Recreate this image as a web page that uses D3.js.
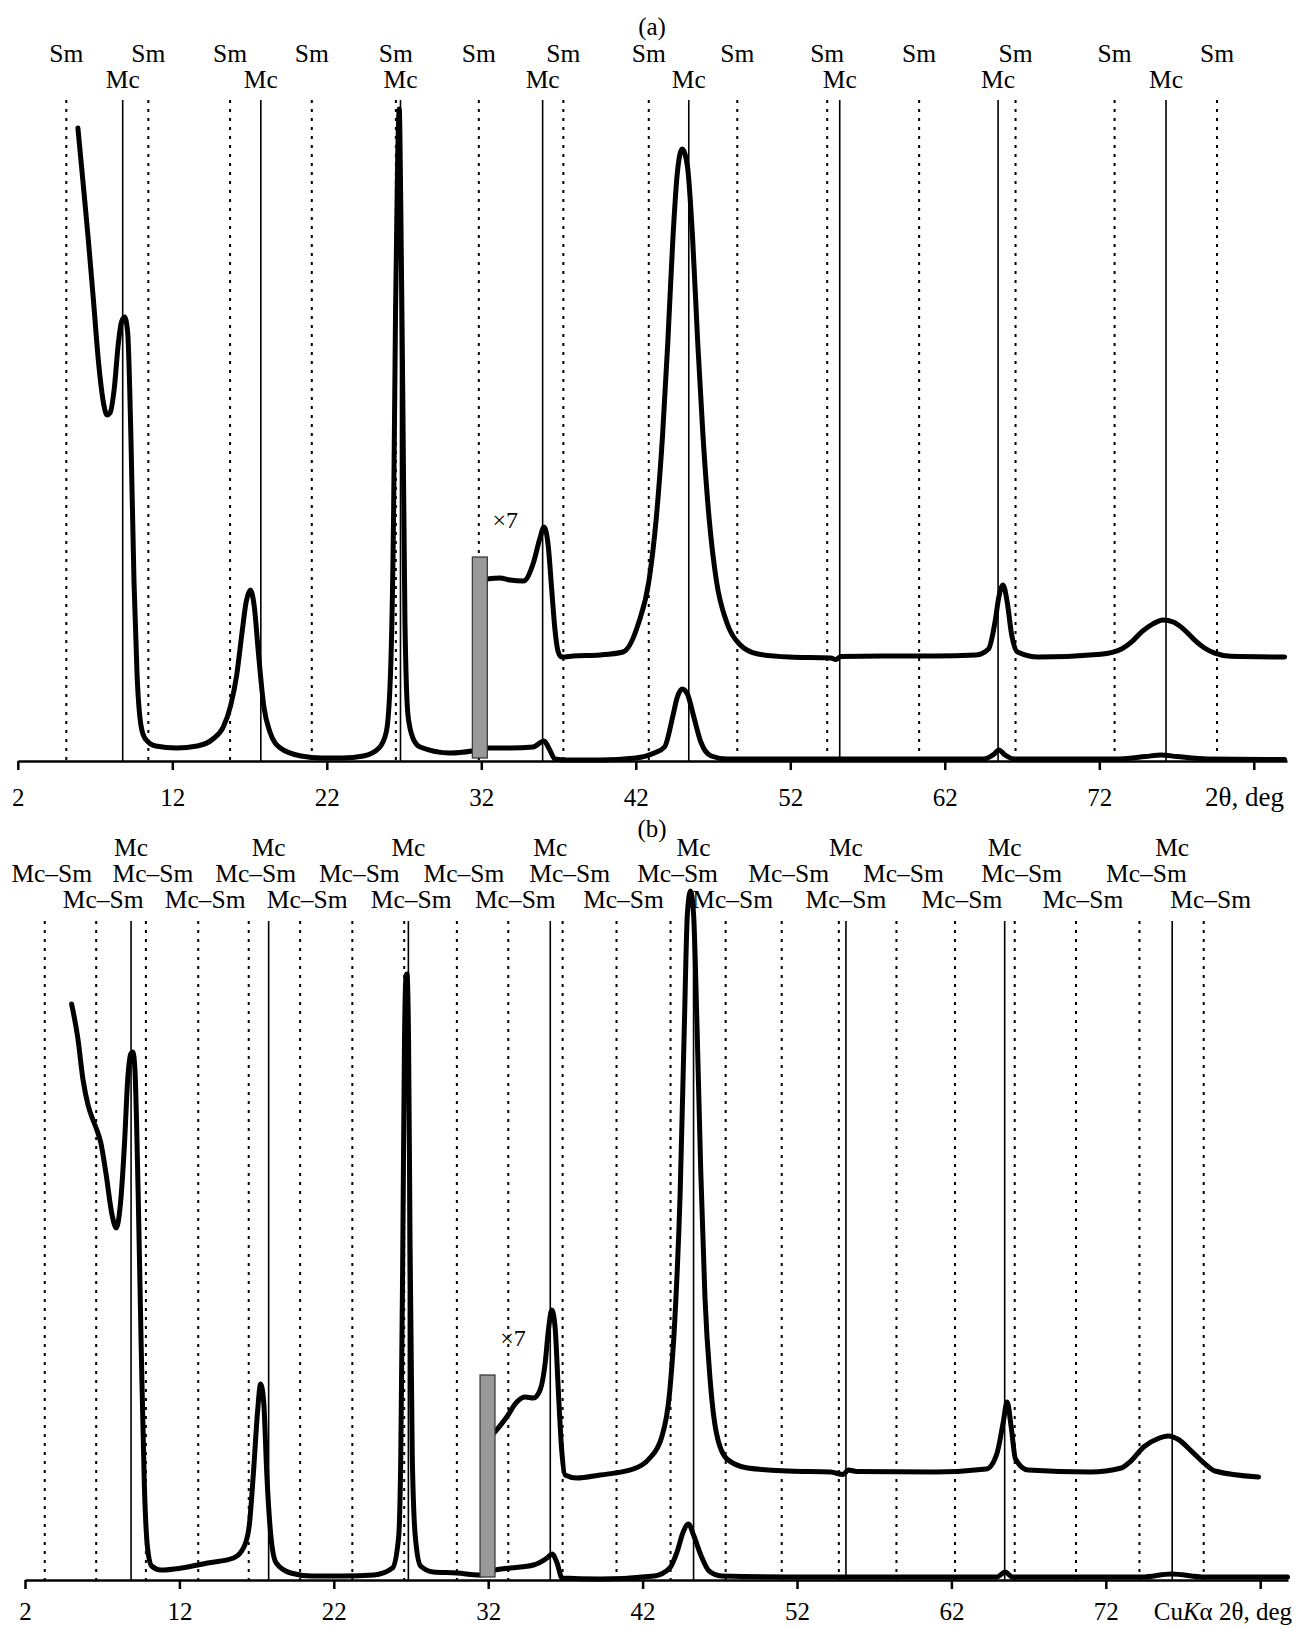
<!DOCTYPE html>
<html>
<head>
<meta charset="utf-8">
<script src="https://cdn.jsdelivr.net/npm/d3@7"></script>
<style>
  body { margin: 0; background: #fff; }
  text { font-family: "Liberation Serif", "Times New Roman", serif; fill: #000; }
</style>
</head>
<body>
<svg id="chart" width="1299" height="1628"></svg>
<script>
// tick values shared by both panels (82 is replaced by the axis title)
const tickValues = [2, 12, 22, 32, 42, 52, 62, 72, 82];

// reference reflection positions, 2theta deg
const smLinesA = [5.14, 10.45, 15.74, 21.03, 26.47, 31.84, 37.31, 42.84, 48.57, 54.39, 60.34, 66.58, 72.99, 79.62];
const mcLinesA = [8.79, 17.73, 26.77, 35.97, 45.43, 55.2, 65.45, 76.32];
const mcSmLinesB = [3.28, 6.61, 9.83, 13.22, 16.49, 19.82, 23.2, 26.56, 29.97, 33.3, 36.82, 40.31, 43.81, 47.38, 51.01, 54.71, 58.44, 62.23, 66.1, 70.07, 74.18, 78.34];
const mcLinesB = [8.87, 17.78, 26.83, 36.02, 45.3, 55.17, 65.45, 76.3];

// (a) pattern, [2theta, intensity]
const scanA = [[5.89, 633], [6.22, 579], [6.56, 522], [6.9, 460], [7.23, 398], [7.57, 356], [7.77, 346], [7.97, 348], [8.24, 372], [8.51, 418], [8.71, 439], [8.91, 444], [9.11, 429], [9.32, 325], [9.52, 180], [9.72, 86], [9.99, 34], [10.26, 22], [10.93, 15], [12.27, 13], [13.62, 15], [14.63, 22], [15.3, 34], [15.77, 55], [16.17, 86], [16.51, 128], [16.78, 159], [17.05, 171], [17.31, 154], [17.58, 107], [17.92, 55], [18.32, 29], [18.99, 13], [20.34, 5], [21.68, 3], [23.03, 3], [24.37, 5], [25.38, 13], [25.85, 29], [26.12, 86], [26.32, 242], [26.45, 450], [26.59, 605], [26.69, 652], [26.79, 553], [26.93, 346], [27.06, 138], [27.26, 45], [27.6, 22], [28.04, 14], [29.98, 8], [31.4, 10], [32.37, 13], [33.9, 13], [35.35, 14], [36.06, 20], [36.4, 12], [36.77, 2], [37.5, 1], [39.68, 1], [42.0, 3], [43.2, 8], [43.86, 14], [44.4, 45], [44.67, 63], [45.0, 72], [45.34, 67], [45.74, 45], [46.21, 19], [46.88, 5], [47.9, 2], [55, 2], [64.5, 2], [65.2, 7], [65.5, 11], [65.9, 6], [66.5, 2], [73, 2], [75, 4.5], [76, 6], [77, 4.5], [79, 2], [84, 1.5]];
// (a) x7 part
const magA = [[32.38, 182], [33.21, 183], [33.86, 181], [34.72, 180], [35.37, 198], [35.8, 223], [36.06, 234], [36.34, 214], [36.56, 171], [36.77, 131], [36.98, 109], [37.2, 104], [37.95, 105], [39.68, 106], [41.17, 109], [42.18, 138], [42.85, 180], [43.32, 242], [43.73, 325], [44.07, 418], [44.4, 522], [44.67, 585], [45.0, 612], [45.34, 595], [45.68, 522], [46.01, 418], [46.35, 325], [46.75, 242], [47.22, 180], [47.9, 138], [48.7, 117], [49.91, 107], [51.93, 104], [54.62, 103], [54.95, 101.5], [55.29, 104.5], [57.98, 105], [61.34, 105], [64.02, 106], [64.83, 112], [65.24, 138], [65.5, 164], [65.77, 176], [66.04, 159], [66.31, 128], [66.71, 109], [68.06, 104], [72.09, 106.8], [73.44, 112], [74.11, 119.3], [74.78, 129.7], [75.45, 136.9], [76.12, 141.1], [76.79, 139], [77.47, 131.7], [78.14, 121.4], [78.81, 113], [79.48, 107.8], [80.49, 104.7], [84.0, 104]];

// (b) pattern
const scanB = [[5.02, 576], [5.42, 542], [5.76, 500], [6.1, 474], [6.43, 459], [6.63, 451], [6.9, 438], [7.24, 407], [7.64, 365], [7.91, 352], [8.18, 376], [8.45, 438], [8.65, 500], [8.85, 526], [8.99, 528], [9.12, 510], [9.33, 386], [9.53, 230], [9.73, 95], [9.93, 33], [10.2, 14], [10.8, 10], [12.15, 12], [13.83, 17], [15.51, 22], [16.18, 33], [16.52, 54], [16.79, 106], [17.06, 168], [17.26, 196], [17.46, 178], [17.66, 106], [17.93, 43], [18.27, 17], [19.21, 7], [20.56, 4], [22.57, 4], [24.59, 5], [25.8, 12], [26.2, 43], [26.34, 126], [26.47, 334], [26.58, 542], [26.68, 604], [26.74, 606], [26.84, 542], [26.94, 334], [27.08, 126], [27.28, 43], [27.62, 14], [28.44, 8], [29.96, 7], [31.47, 5], [32.44, 10], [33.43, 12], [34.94, 15], [35.81, 22], [36.14, 26], [36.46, 17], [36.78, 2], [39.24, 1], [42.75, 4], [43.76, 12], [44.23, 28], [44.63, 48], [44.97, 56], [45.3, 45], [45.77, 25], [46.31, 9], [47.12, 4], [51.49, 3], [64.94, 3], [65.48, 8], [65.95, 3], [74.36, 3], [76.24, 6], [78.39, 3], [83.77, 3]];
// (b) x7 part
const magB = [[32.44, 148], [33.2, 163], [33.85, 178], [34.39, 183], [34.93, 182], [35.36, 190], [35.69, 217], [35.9, 250], [36.12, 270], [36.33, 253], [36.54, 190], [36.76, 130], [36.98, 105], [37.73, 102], [39.24, 105], [41.4, 111], [42.41, 121], [43.22, 142], [43.76, 189], [44.09, 261], [44.43, 386], [44.7, 552], [44.9, 666], [45.1, 689], [45.3, 666], [45.51, 562], [45.77, 407], [46.04, 282], [46.38, 199], [46.78, 147], [47.46, 121], [48.8, 112], [51.49, 109], [54.18, 108], [54.99, 105.5], [55.32, 110], [55.86, 108.5], [60.91, 108], [64.27, 111], [64.94, 126], [65.35, 157], [65.61, 178], [65.88, 152], [66.15, 121], [66.96, 110], [71, 108], [73.01, 112], [73.55, 117.9], [74.49, 133.5], [75.4, 141.5], [76.04, 144], [76.7, 140.5], [77.58, 128.3], [78.52, 114.8], [79.06, 109], [81.89, 103]];

// grey x7 markers: [2theta from, 2theta to, intensity from, intensity to]
const markA = [31.42, 32.39, 3, 204];
const markB = [31.47, 32.44, 3, 205];

const svg = d3.select('#chart');

function drawPanel(p) {
  const x = d3.scaleLinear().domain([2, p.xEnd]).range([p.left, p.right]);
  const y = d3.scaleLinear().domain([0, 670]).range([p.axisY, p.axisY - 670]);
  const g = svg.append('g');

  // panel letter
  g.append('text').attr('x', 652).attr('y', p.letterY).attr('dy', '0.35em')
    .attr('text-anchor', 'middle').attr('font-size', 25).text(p.letter);

  // dotted and solid reference lines
  g.selectAll('.dot-line').data(p.dotLines).enter().append('line')
    .attr('x1', d => x(d)).attr('x2', d => x(d))
    .attr('y1', p.lineTop).attr('y2', p.axisY)
    .attr('stroke', '#000').attr('stroke-width', 2).attr('stroke-dasharray', '3,6');
  g.selectAll('.solid-line').data(p.solidLines).enter().append('line')
    .attr('x1', d => x(d)).attr('x2', d => x(d))
    .attr('y1', p.lineTop).attr('y2', p.axisY)
    .attr('stroke', '#000').attr('stroke-width', 1.6);

  // labels over the lines
  p.dotLines.forEach((d, i) => {
    g.append('text').attr('x', x(d) + p.dotDx).attr('y', p.dotLabelY[i % p.dotLabelY.length])
      .attr('dy', '0.35em').attr('text-anchor', 'middle').attr('font-size', 25.5).text(p.dotLabel);
  });
  p.solidLines.forEach(d => {
    g.append('text').attr('x', x(d)).attr('y', p.solidLabelY)
      .attr('dy', '0.35em').attr('text-anchor', 'middle').attr('font-size', 25.5).text('Mc');
  });

  // patterns
  const line = d3.line().x(d => x(d[0])).y(d => y(d[1])).curve(d3.curveMonotoneX);
  [p.scan, p.mag].forEach(s => {
    g.append('path').datum(s).attr('d', line)
      .attr('fill', 'none').attr('stroke', '#000').attr('stroke-width', 5)
      .attr('stroke-linejoin', 'round').attr('stroke-linecap', 'round');
  });

  // grey marker and x7 note
  const m = p.mark;
  g.append('rect').attr('x', x(m[0])).attr('y', y(m[3]))
    .attr('width', x(m[1]) - x(m[0])).attr('height', y(m[2]) - y(m[3]))
    .attr('fill', '#999').attr('stroke', '#333').attr('stroke-width', 1.2);
  g.append('text').attr('x', x(m[1]) + 18).attr('y', y(m[3]) - p.noteGap)
    .attr('dy', '0.35em').attr('text-anchor', 'middle').attr('font-size', 24).text('×7');

  // axis
  const axis = d3.axisBottom(x).tickValues(tickValues).tickSize(9).tickSizeOuter(0)
    .tickFormat(d => d === 82 ? '' : d);
  const ax = g.append('g').attr('transform', `translate(0,${p.axisY})`).call(axis);
  ax.select('.domain').attr('stroke', '#000').attr('stroke-width', 2.5);
  ax.selectAll('.tick line').attr('stroke', '#000').attr('stroke-width', 2.5);
  ax.selectAll('.tick text').attr('font-size', 25)
    .attr('font-family', '"Liberation Serif", "Times New Roman", serif').attr('fill', '#000')
    .attr('y', 0).attr('dy', '0.35em').attr('transform', `translate(0,${p.tickLabelDy})`);

  const title = g.append('text').attr('x', p.titleRight).attr('y', p.axisY + p.tickLabelDy)
    .attr('dy', '0.35em').attr('text-anchor', 'end').attr('font-size', p.titleSize);
  p.title.forEach(t => title.append('tspan').attr('font-style', t[1] ? 'italic' : 'normal').text(t[0]));
}

drawPanel({
  letter: '(a)', letterY: 26,
  left: 17.8, right: 1287, xEnd: 84.15, axisY: 761, lineTop: 100,
  dotLines: smLinesA, dotLabel: 'Sm', dotDx: 0, dotLabelY: [53], solidLines: mcLinesA, solidLabelY: 79,
  scan: scanA, mag: magA, mark: markA, noteGap: 37,
  tickLabelDy: 36, titleRight: 1284, titleSize: 27, title: [['2θ, deg', false]]
});

drawPanel({
  letter: '(b)', letterY: 828,
  left: 25, right: 1288, xEnd: 83.8, axisY: 1580, lineTop: 921,
  dotLines: mcSmLinesB, dotLabel: 'Mc–Sm', dotDx: 7, dotLabelY: [873, 899], solidLines: mcLinesB, solidLabelY: 847,
  scan: scanB, mag: magB, mark: markB, noteGap: 37,
  tickLabelDy: 31, titleRight: 1292, titleSize: 25, title: [['Cu', false], ['K', true], ['α 2θ, deg', false]]
});
</script>
</body>
</html>
